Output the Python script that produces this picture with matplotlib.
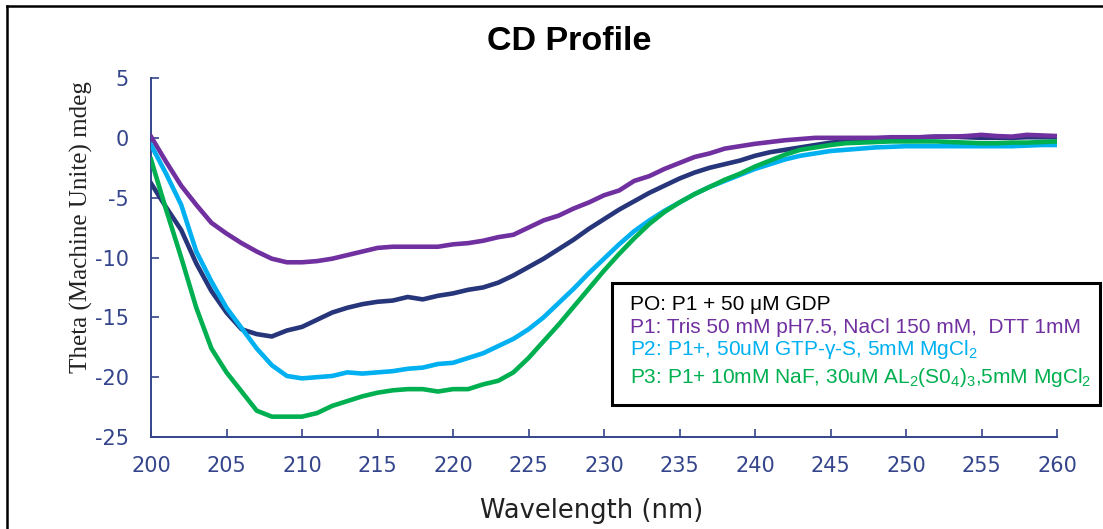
import matplotlib
matplotlib.use("Agg")
import matplotlib.pyplot as plt
from matplotlib.lines import Line2D
from matplotlib.patches import Rectangle

# ---------------- data ----------------
wavelength = list(range(200, 261))

p0 = [-3.8, -5.8, -7.7, -10.5, -12.8, -14.6, -16.0, -16.4, -16.6, -16.1,
      -15.8, -15.2, -14.6, -14.2, -13.9, -13.7, -13.6, -13.3, -13.5, -13.2,
      -13.0, -12.7, -12.5, -12.1, -11.5, -10.8, -10.1, -9.3, -8.5, -7.6,
      -6.8, -6.0, -5.3, -4.6, -4.0, -3.4, -2.9, -2.5, -2.2, -1.9,
      -1.5, -1.2, -1.0, -0.8, -0.6, -0.4, -0.3, -0.2, -0.1, -0.05,
      0.0, 0.05, 0.1, 0.1, 0.05, 0.0, 0.0, 0.0, 0.05, 0.05, 0.05]

p1 = [0.1, -2.0, -4.0, -5.6, -7.1, -8.0, -8.8, -9.5, -10.1, -10.4,
      -10.4, -10.3, -10.1, -9.8, -9.5, -9.2, -9.1, -9.1, -9.1, -9.1,
      -8.9, -8.8, -8.6, -8.3, -8.1, -7.5, -6.9, -6.5, -5.9, -5.4,
      -4.8, -4.4, -3.6, -3.2, -2.6, -2.1, -1.6, -1.3, -0.9, -0.7,
      -0.5, -0.35, -0.2, -0.1, 0.0, 0.0, 0.0, 0.0, 0.0, 0.05,
      0.05, 0.05, 0.1, 0.1, 0.15, 0.25, 0.15, 0.1, 0.25, 0.2, 0.15]

p2 = [-0.6, -3.0, -5.6, -9.5, -12.0, -14.2, -15.9, -17.6, -19.0, -19.9,
      -20.1, -20.0, -19.9, -19.6, -19.7, -19.6, -19.5, -19.3, -19.2, -18.9,
      -18.8, -18.4, -18.0, -17.4, -16.8, -16.0, -15.0, -13.8, -12.6, -11.3,
      -10.1, -8.9, -7.8, -6.9, -6.1, -5.4, -4.7, -4.1, -3.6, -3.1,
      -2.6, -2.2, -1.8, -1.5, -1.3, -1.1, -1.0, -0.9, -0.8, -0.75,
      -0.7, -0.7, -0.7, -0.7, -0.7, -0.7, -0.7, -0.7, -0.65, -0.6, -0.6]

p3 = [-1.8, -6.0, -10.0, -14.2, -17.6, -19.6, -21.2, -22.8, -23.3, -23.3,
      -23.3, -23.0, -22.4, -22.0, -21.6, -21.3, -21.1, -21.0, -21.0, -21.2,
      -21.0, -21.0, -20.6, -20.3, -19.6, -18.4, -17.0, -15.6, -14.1, -12.6,
      -11.1, -9.7, -8.4, -7.2, -6.2, -5.4, -4.7, -4.1, -3.5, -3.0,
      -2.4, -1.9, -1.4, -1.0, -0.8, -0.6, -0.45, -0.4, -0.35, -0.3,
      -0.3, -0.3, -0.3, -0.35, -0.4, -0.45, -0.45, -0.4, -0.4, -0.35, -0.3]

legend_labels = [
    "PO: P1 + 50 \u03bcM GDP",
    "P1: Tris 50 mM pH7.5, NaCl 150 mM,  DTT 1mM",
    "P2: P1+, 50uM GTP-\u03b3-S, 5mM MgCl$_2$",
    "P3: P1+ 10mM NaF, 30uM AL$_2$(S0$_4$)$_3$,5mM MgCl$_2$",
]
x_ticks = [200, 205, 210, 215, 220, 225, 230, 235, 240, 245, 250, 255, 260]
y_ticks = [5, 0, -5, -10, -15, -20, -25]

# ---------------- style ----------------
c_p0 = "#27357A"
c_p1 = "#7030A0"
c_p2 = "#00B0F0"
c_p3 = "#00B050"
axis_col = "#34458C"

plt.rcParams["mathtext.fontset"] = "custom"
plt.rcParams["mathtext.rm"] = "Liberation Sans"
plt.rcParams["mathtext.it"] = "Liberation Sans:italic"
plt.rcParams["mathtext.bf"] = "Liberation Sans:bold"

W, H = 1103, 529
fig = plt.figure(figsize=(W / 100, H / 100), dpi=100)
fig.patch.set_facecolor("white")

def fx(px):
    return px / W

def fy(py):
    return 1 - py / H

ax = fig.add_axes([fx(151), fy(437), fx(1057) - fx(151), fy(78) - fy(437)])

lw = 3.3
ax.plot(wavelength, p0, color=c_p0, lw=lw, solid_joinstyle="round", zorder=3)
ax.plot(wavelength, p1, color=c_p1, lw=lw, solid_joinstyle="round", zorder=3)
ax.plot(wavelength, p2, color=c_p2, lw=lw, solid_joinstyle="round", zorder=3)
ax.plot(wavelength, p3, color=c_p3, lw=lw, solid_joinstyle="round", zorder=3)

ax.set_xlim(200, 260)
ax.set_ylim(-25, 5)
ax.set_xticks(x_ticks)
ax.set_yticks(y_ticks)
ax.set_xticklabels([str(v) for v in x_ticks])
ax.set_yticklabels([str(v) for v in y_ticks])

for s in ["top", "right"]:
    ax.spines[s].set_visible(False)
for s in ["left", "bottom"]:
    ax.spines[s].set_color(axis_col)
    ax.spines[s].set_linewidth(1.4)

ax.tick_params(axis="both", direction="in", length=6, width=1.2, color=axis_col,
               labelcolor=axis_col, labelsize=15)
ax.tick_params(axis="x", pad=14)
ax.tick_params(axis="y", pad=16)
for lab in ax.get_xticklabels() + ax.get_yticklabels():
    lab.set_family("DejaVu Sans")

# titles/labels
fig.text(fx(569), fy(41), "CD Profile", ha="center", va="center",
         fontsize=24.5, fontweight="bold", family="Liberation Sans", color="black")
fig.text(fx(592), fy(511), "Wavelength (nm)", ha="center", va="center",
         fontsize=18.5, family="DejaVu Sans", color="#222222")
fig.text(fx(81), fy(227), "Theta (Machine Unite) mdeg", ha="center", va="center",
         rotation=90, fontsize=18, family="Liberation Serif", color="#222222")

# legend box with coloured text
box = Rectangle((fx(612), fy(405)), fx(1100) - fx(612), fy(283) - fy(405),
                transform=fig.transFigure, facecolor="white", edgecolor="black",
                linewidth=2.2, zorder=5)
fig.add_artist(box)
leg_colors = ["black", c_p1, c_p2, c_p3]
leg_base = [310, 333, 355, 383]
for lab, col, yb in zip(legend_labels, leg_colors, leg_base):
    fig.text(fx(630), fy(yb), lab, ha="left", va="baseline", fontsize=15,
             family="Liberation Sans", color=col, zorder=6)

# outer frame (left and top edges)
fig.add_artist(Line2D([fx(7), fx(7)], [0, fy(6)], transform=fig.transFigure,
                      color="black", lw=1.8))
fig.add_artist(Line2D([fx(7), 1], [fy(6), fy(6)], transform=fig.transFigure,
                      color="black", lw=1.8))

fig.savefig("out.png", dpi=100, facecolor="white")
